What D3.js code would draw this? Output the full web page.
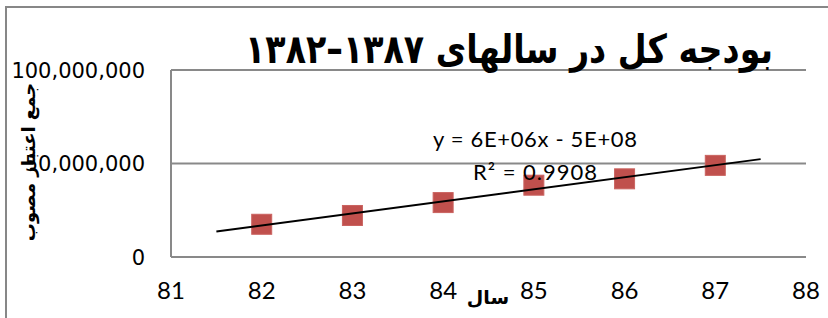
<!DOCTYPE html>
<html>
<head>
<meta charset="utf-8">
<script src="https://cdn.jsdelivr.net/npm/d3@7"></script>
<style>
  body { margin: 0; background: #fff; }
  svg { display: block; }
</style>
</head>
<body>
<svg id="chart"></svg>
<script>
// data
var years = [82, 83, 84, 85, 86, 87];
var budget = [17500000, 22200000, 29100000, 38400000, 41800000, 49000000];
var xTicks = [81, 82, 83, 84, 85, 86, 87, 88];
var yTicks = [0, 50000000, 100000000];
var titleText = "بودجه کل در سالهای ۱۳۸۷–۱۳۸۲";
var yTitle = "جمع اعتبار مصوب";
var xTitle = "سال";
var eqText = "y = 6E+06x - 5E+08";
var r2Text = "R² = 0.9908";

var W = 828, H = 318;
var margin = {top: 70, right: 22, bottom: 61, left: 171};

var svg = d3.select("#chart").attr("width", W).attr("height", H);

// outer chart border (runs off the picture on the right and bottom)
svg.append("rect")
    .attr("x", 6).attr("y", 7)
    .attr("width", W + 10).attr("height", H + 10)
    .attr("fill", "none")
    .attr("stroke", "#878787")
    .attr("stroke-width", 2);

var x = d3.scaleLinear().domain([81, 88]).range([margin.left, W - margin.right]);
var y = d3.scaleLinear().domain([0, 100000000]).range([H - margin.bottom, margin.top]);

// gridlines
svg.append("g").selectAll("line")
    .data(yTicks)
    .enter().append("line")
    .attr("x1", x(81)).attr("x2", x(88))
    .attr("y1", d => y(d)).attr("y2", d => y(d))
    .attr("stroke", "#898989")
    .attr("stroke-width", 2);

// left axis line
svg.append("line")
    .attr("x1", x(81)).attr("x2", x(81))
    .attr("y1", y(0)).attr("y2", y(100000000))
    .attr("stroke", "#898989")
    .attr("stroke-width", 2);

// y tick labels
var fmt = d3.format(",");
svg.append("g").selectAll("text")
    .data(yTicks)
    .enter().append("text")
    .attr("x", 145)
    .attr("y", d => y(d))
    .attr("dy", "0.36em")
    .attr("text-anchor", "end")
    .style("font-family", "'DejaVu Sans', sans-serif")
    .style("font-size", "21px")
    .attr("fill", "#000")
    .text(d => fmt(d));

// x tick labels
svg.append("g").selectAll("text")
    .data(xTicks)
    .enter().append("text")
    .attr("x", d => x(d))
    .attr("y", 290)
    .attr("dy", "0.36em")
    .attr("text-anchor", "middle")
    .style("font-family", "Lato, sans-serif")
    .style("font-size", "24px")
    .attr("fill", "#000")
    .text(d => d);

// linear trendline from the data
var mx = d3.mean(years), my = d3.mean(budget);
var sxy = d3.sum(years, (v, i) => (v - mx) * (budget[i] - my));
var sxx = d3.sum(years, v => (v - mx) * (v - mx));
var slope = sxy / sxx, icpt = my - slope * mx;
var tx = [81.5, 87.5];

// title, fitted to the reference width and stretched a bit taller
var title = svg.append("text")
    .attr("transform", "translate(509,63) scale(1,1.2)")
    .attr("text-anchor", "middle")
    .style("direction", "rtl")
    .style("font-family", "'DejaVu Sans', sans-serif")
    .style("font-weight", "bold")
    .style("font-size", "36px")
    .attr("fill", "#000")
    .text(titleText);
var tw = title.node().getComputedTextLength();
title.style("font-size", (36 * 528 / tw) + "px");

// markers
svg.append("g").selectAll("rect")
    .data(years)
    .enter().append("rect")
    .attr("x", d => x(d) - 10)
    .attr("y", (d, i) => y(budget[i]) - 10)
    .attr("width", 20).attr("height", 20)
    .attr("fill", "#C0504D")
    .attr("stroke", "#CA6360")
    .attr("stroke-width", 1);

svg.append("line")
    .attr("x1", x(tx[0])).attr("y1", y(slope * tx[0] + icpt))
    .attr("x2", x(tx[1])).attr("y2", y(slope * tx[1] + icpt))
    .attr("stroke", "#000")
    .attr("stroke-width", 2);

// trendline labels
svg.append("text")
    .attr("x", 433).attr("y", 147)
    .attr("textLength", 204)
    .style("font-family", "Lato, sans-serif")
    .style("font-size", "22px")
    .attr("fill", "#000")
    .text(eqText);
svg.append("text")
    .attr("x", 473).attr("y", 180)
    .attr("textLength", 124)
    .style("font-family", "Lato, sans-serif")
    .style("font-size", "22px")
    .attr("fill", "#000")
    .text(r2Text);

// axis titles
svg.append("text")
    .attr("transform", "translate(35,162) rotate(-90)")
    .attr("text-anchor", "middle")
    .style("direction", "rtl")
    .style("font-family", "'DejaVu Sans', sans-serif")
    .style("font-weight", "bold")
    .style("font-size", "18px")
    .attr("fill", "#000")
    .text(yTitle);

svg.append("text")
    .attr("x", 488).attr("y", 304)
    .attr("text-anchor", "middle")
    .style("direction", "rtl")
    .style("font-family", "'DejaVu Sans', sans-serif")
    .style("font-weight", "bold")
    .style("font-size", "19px")
    .attr("fill", "#000")
    .text(xTitle);
</script>
</body>
</html>
